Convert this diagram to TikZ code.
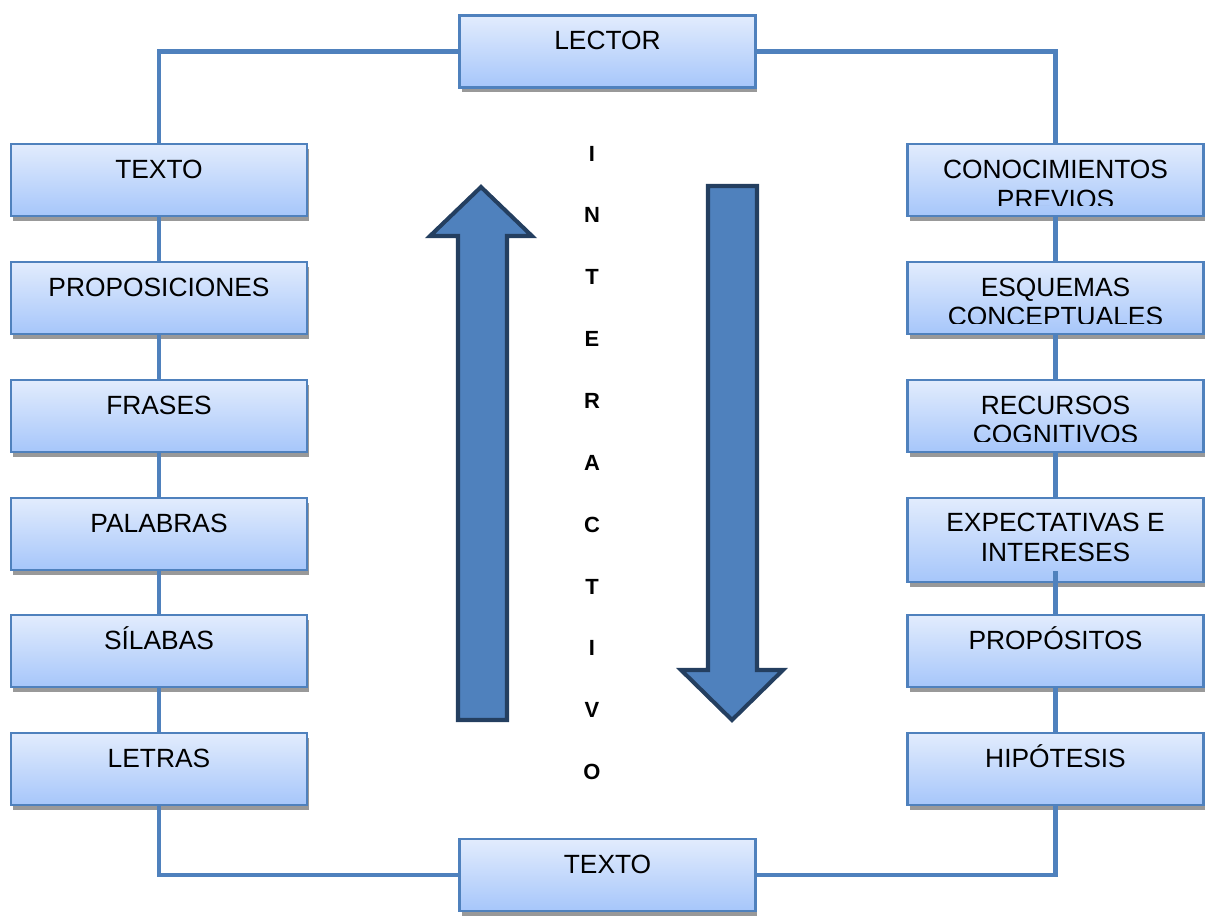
\documentclass[tikz,border=0pt]{standalone}
\usepackage{fontspec}
\setmainfont{Liberation Sans}
\usetikzlibrary{shadows}

\definecolor{borde}{HTML}{4F81BD}
\definecolor{cajaarriba}{HTML}{E2ECFD}
\definecolor{cajaabajo}{HTML}{A6C6FA}
\definecolor{flechaborde}{HTML}{243F60}

\tikzset{
  bloque/.style={draw=borde, line width=1.2pt, top color=cajaarriba, bottom color=cajaabajo,
     minimum width=5.92cm, minimum height=1.44cm, inner sep=0pt,
     drop shadow={shadow xshift=0.04cm, shadow yshift=-0.1cm, fill=black!40, opacity=1}},
  rotulo/.style={anchor=base, inner sep=0pt, font=\fontsize{15}{16.5}\selectfont},
  conector/.style={draw=borde, line width=2.3pt},
  flecha/.style={draw=flechaborde, fill=borde, line width=2.3pt, line join=miter},
  letra/.style={font=\fontsize{12.5}{14}\selectfont\bfseries}
}

\begin{document}
\begin{tikzpicture}[x=0.02cm, y=-0.02cm]
  \useasboundingbox (0,0) rectangle (1209,916);

  % cajas
  \node[bloque] (lector) at (607.5,51.5) {};
  \node[bloque] (textob) at (607.5,875) {};

  \node[bloque] (texto) at (159,180) {};
  \node[bloque] (proposiciones) at (159,298) {};
  \node[bloque] (frases) at (159,416) {};
  \node[bloque] (palabras) at (159,534) {};
  \node[bloque] (silabas) at (159,651) {};
  \node[bloque] (letras) at (159,769) {};

  \node[bloque] (conocimientos) at (1055.5,180) {};
  \node[bloque] (esquemas) at (1055.5,298) {};
  \node[bloque] (recursos) at (1055.5,416) {};
  \node[bloque, minimum height=1.68cm] (expectativas) at (1055.5,540) {};
  \node[bloque] (propositos) at (1055.5,651) {};
  \node[bloque] (hipotesis) at (1055.5,769) {};
  \coordinate (expectativas-fin) at (1055.5,571);

  % conectores
  \draw[conector] (lector.west) -| (texto.north);
  \draw[conector] (lector.east) -| (conocimientos.north);
  \draw[conector] (letras.south) |- (textob.west);
  \draw[conector] (hipotesis.south) |- (textob.east);
  \draw[conector] (texto) -- (proposiciones) -- (frases) -- (palabras) -- (silabas) -- (letras);
  \draw[conector] (conocimientos.south) -- (esquemas.north);
  \draw[conector] (esquemas.south) -- (recursos.north);
  \draw[conector] (recursos.south) -- (expectativas.north);
  \draw[conector] (expectativas-fin) -- (propositos.north);
  \draw[conector] (propositos.south) -- (hipotesis.north);

  % rotulos
  \node[rotulo] (t-lector) at (607.5,49.5) {LECTOR};
  \node[rotulo] (t-textob) at (607.5,873.5) {TEXTO};

  \node[rotulo] (t-texto) at (159,178.5) {TEXTO};
  \node[rotulo] (t-proposiciones) at (159,296.5) {PROPOSICIONES};
  \node[rotulo] (t-frases) at (159,414.5) {FRASES};
  \node[rotulo] (t-palabras) at (159,532.5) {PALABRAS};
  \node[rotulo] (t-silabas) at (159,649.5) {SÍLABAS};
  \node[rotulo] (t-letras) at (159,767.5) {LETRAS};

  \node[rotulo] (t-conocimientos) at (1055.5,178.5) {CONOCIMIENTOS};
  \begin{scope}
    \clip (906,143) rectangle (1205,205.5);
    \node[rotulo] (t-previos) at (1055.5,208) {PREVIOS};
  \end{scope}
  \node[rotulo] (t-esquemas) at (1055.5,296.5) {ESQUEMAS};
  \begin{scope}
    \clip (906,261) rectangle (1205,323);
    \node[rotulo] (t-conceptuales) at (1055.5,325.5) {CONCEPTUALES};
  \end{scope}
  \node[rotulo] (t-recursos) at (1055.5,414.5) {RECURSOS};
  \begin{scope}
    \clip (906,379) rectangle (1205,441);
    \node[rotulo] (t-cognitivos) at (1055.5,443.5) {COGNITIVOS};
  \end{scope}
  \node[rotulo] (t-expectativas) at (1055.5,531.5) {EXPECTATIVAS E};
  \node[rotulo] (t-intereses) at (1055.5,561.5) {INTERESES};
  \node[rotulo] (t-propositos) at (1055.5,649.5) {PROPÓSITOS};
  \node[rotulo] (t-hipotesis) at (1055.5,767.5) {HIPÓTESIS};

  % flechas
  \draw[flecha] (481,187) -- (532,236) -- (507,236) -- (507,720) -- (458,720) -- (458,236) -- (430,236) -- cycle;
  \draw[flecha] (708,186) -- (757,186) -- (757,670) -- (783,670) -- (732,720) -- (681,670) -- (708,670) -- cycle;

  % interactivo
  \foreach \l [count=\i from 0] in {I,N,T,E,R,A,C,T,I,V,O}
    \node[letra] (letra\i) at (592,153.5+61.85*\i) {\l};
\end{tikzpicture}
\end{document}
